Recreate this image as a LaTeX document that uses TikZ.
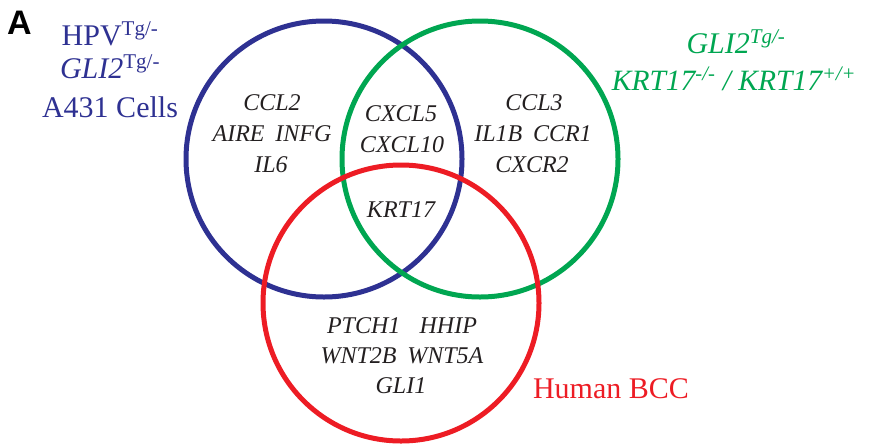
\documentclass[tikz,border=0pt]{standalone}
\usepackage{fontspec}
\setmainfont{Liberation Serif}
\newfontfamily\panelfont{Liberation Sans}
\definecolor{setblue}{RGB}{46,49,146}
\definecolor{setgreen}{RGB}{0,166,81}
\definecolor{setred}{RGB}{237,28,36}
\definecolor{genegray}{RGB}{35,31,32}
\begin{document}
\begin{tikzpicture}[x=1pt,y=-1pt,
  setring/.style={circle, draw, line width=5pt, minimum size=276pt, inner sep=0pt},
  gene/.style={anchor=base, inner sep=0pt, text=genegray,
    font=\fontsize{24}{24}\selectfont\itshape},
  setlabel/.style={anchor=base, inner sep=0pt,
    font=\fontsize{30}{30}\selectfont}]
\useasboundingbox (0,0) rectangle (885,445);

% the three sets
\node[setring, draw=setblue]  (blue)  at (324,159) {};
\node[setring, draw=setgreen] (green) at (480,159) {};
\node[setring, draw=setred]   (red)   at (401,303) {};

% panel letter
\node[anchor=base west, inner sep=0pt, font=\panelfont\bfseries\fontsize{34}{34}\selectfont]
  (panel) at (7,34) {A};

% set labels
\node[setlabel, text=setblue] (hpv)  at (110,45)  {HPV\textsuperscript{Tg/-}};
\node[setlabel, text=setblue] (gli2) at (110,78)  {\textit{GLI2}\textsuperscript{Tg/-}};
\node[setlabel, text=setblue] (a431) at (110,117) {A431 Cells};

\node[setlabel, text=setgreen, font=\fontsize{30}{30}\selectfont\itshape]
  (ggli2) at (736,53) {GLI2\textsuperscript{Tg/-}};
\node[setlabel, text=setgreen, font=\fontsize{29.5}{30}\selectfont\itshape]
  (gkrt) at (734,90) {KRT17\textsuperscript{-/-} / KRT17\textsuperscript{+/+}};

\node[setlabel, text=setred] (bcc) at (611,398) {Human BCC};

% blue only
\node[gene] (ccl2) at (272,110) {CCL2};
\node[gene] (aire) at (272,141) {AIRE\hspace{0.45em}INFG};
\node[gene] (il6)  at (271,172) {IL6};

% blue and green
\node[gene] (cxcl5)  at (401,121) {CXCL5};
\node[gene] (cxcl10) at (402,152) {CXCL10};

% all three
\node[gene] (krt17) at (401,217) {KRT17};

% green only
\node[gene] (ccl3) at (534,110) {CCL3};
\node[gene] (il1b) at (533,141) {IL1B\hspace{0.45em}CCR1};
\node[gene] (cxcr2) at (532,172) {CXCR2};

% red only
\node[gene] (ptch1) at (402,333) {PTCH1\hspace{0.8em}HHIP};
\node[gene] (wnt2b) at (402,363) {WNT2B\hspace{0.45em}WNT5A};
\node[gene] (gli1)  at (401,393) {GLI1};
\end{tikzpicture}
\end{document}
